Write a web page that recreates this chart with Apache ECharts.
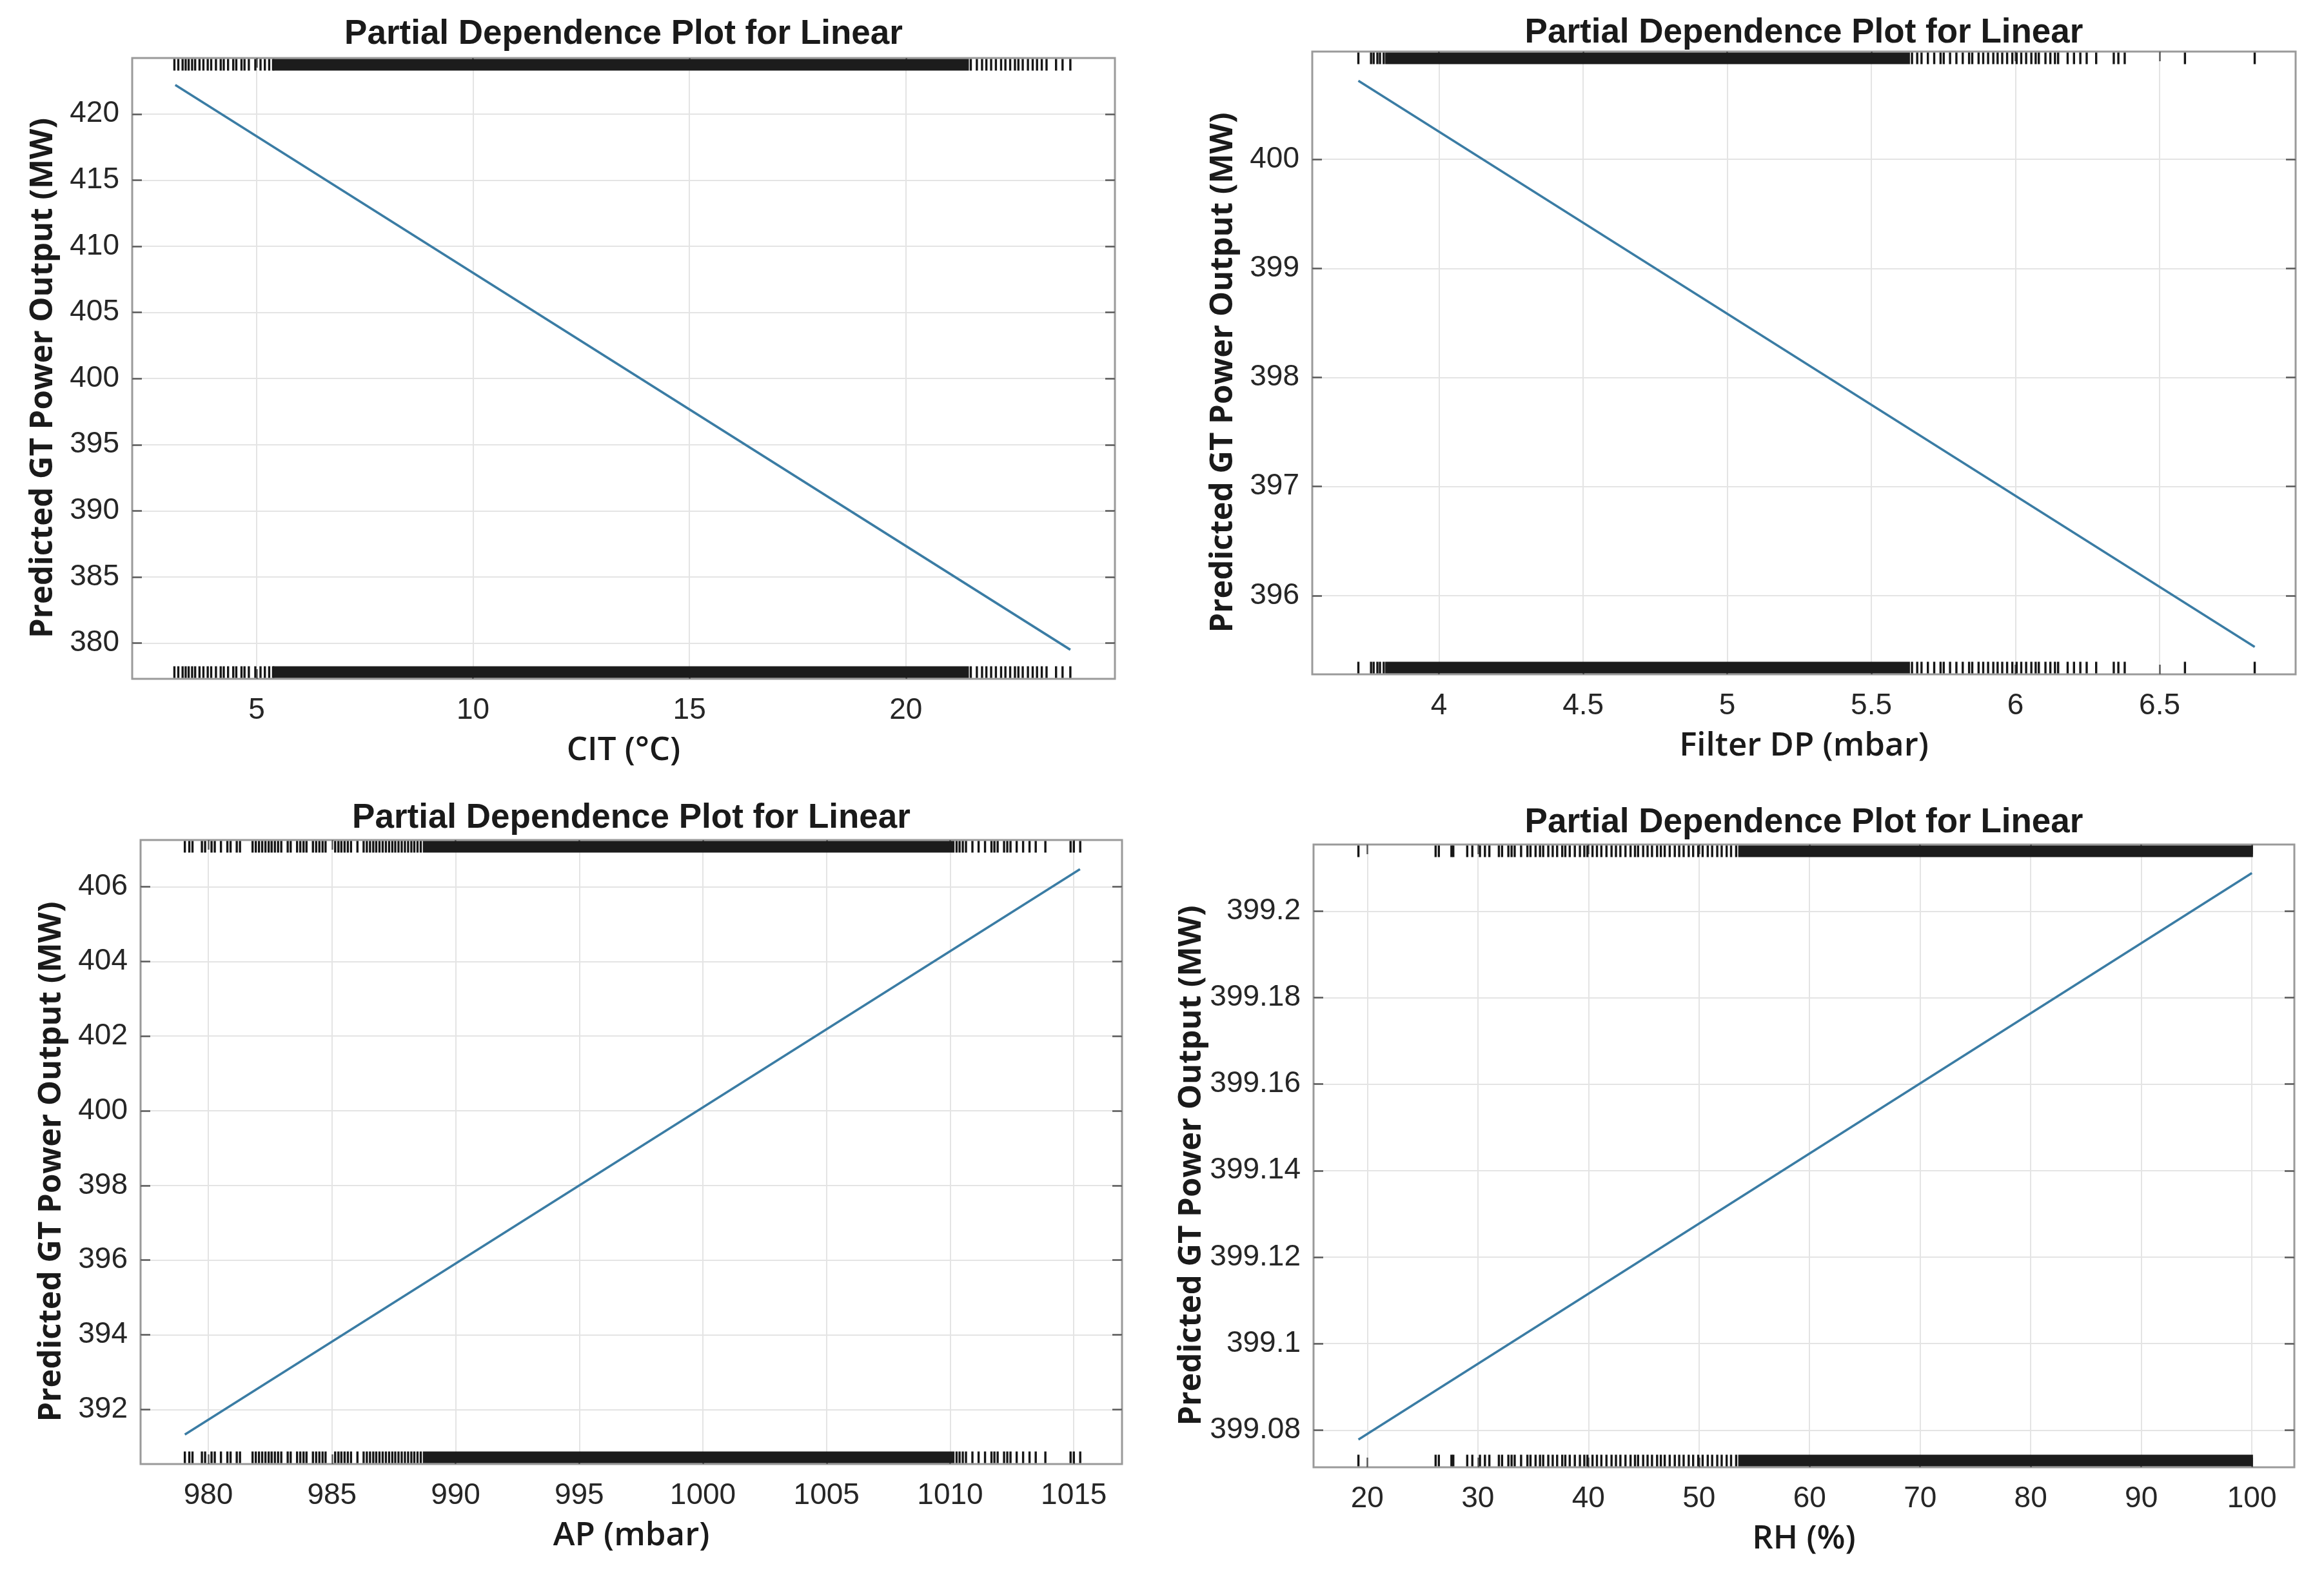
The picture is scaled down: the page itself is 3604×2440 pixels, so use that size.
<!DOCTYPE html>
<html><head><meta charset="utf-8">
<script src="https://cdn.jsdelivr.net/npm/echarts@6.0.0/dist/echarts.min.js"></script>
<style>html,body{margin:0;padding:0;background:#fff}#c{width:3604px;height:2440px}</style>
</head><body><div id="c"></div>
<script>
// ---------- data ----------
const titleText = 'Partial Dependence Plot for Linear';
const yName = 'Predicted GT Power Output (MW)';

// CIT panel
const citX = [3.12, 23.8];
const citY = [422.2, 379.5];
const citXTicks = [5, 10, 15, 20];
const citYTicks = [380, 385, 390, 395, 400, 405, 410, 415, 420];
const citRugMarks = [3.10, 3.19, 3.29, 3.36, 3.43, 3.51, 3.58, 3.68, 3.77, 3.87, 3.95, 4.06, 4.17, 4.24, 4.34, 4.46, 4.53, 4.65, 4.72, 4.82, 4.97, 5.09, 5.19, 5.29, 5.38,
  21.50, 21.64, 21.76, 21.86, 21.97, 22.08, 22.20, 22.30, 22.41, 22.52, 22.60, 22.70, 22.82, 22.93, 23.03, 23.14, 23.25, 23.47, 23.62, 23.80];
const citRugBands = [[5.41, 21.43]];

// Filter DP panel
const dpX = [3.72, 6.83];
const dpY = [400.72, 395.53];
const dpXTicks = [4, 4.5, 5, 5.5, 6, 6.5];
const dpYTicks = [396, 397, 398, 399, 400];
const dpRugMarks = [3.72, 3.764, 3.773, 3.786, 3.795, 3.808,
  5.641, 5.659, 5.674, 5.696, 5.718, 5.740, 5.751, 5.773, 5.795, 5.817, 5.839, 5.850, 5.872, 5.888, 5.905, 5.923, 5.938, 5.954, 5.971, 5.989, 6.004, 6.020, 6.037, 6.055, 6.070, 6.081, 6.104, 6.121, 6.137, 6.148,
  6.181, 6.203, 6.225, 6.247, 6.280, 6.341, 6.357, 6.379, 6.588, 6.830];
const dpRugBands = [[3.817, 5.63]];

// AP panel
const apX = [979.05, 1015.25];
const apY = [391.33, 406.47];
const apXTicks = [980, 985, 990, 995, 1000, 1005, 1010, 1015];
const apYTicks = [392, 394, 396, 398, 400, 402, 404, 406];
const apRugMarks = [979.05, 979.23, 979.36, 979.74, 979.87, 980.13, 980.26, 980.51, 980.77, 980.90, 981.15, 981.28, 981.79, 981.92, 982.05, 982.18, 982.31, 982.44, 982.56, 982.69, 982.82, 982.95, 983.21, 983.33, 983.59, 983.72, 983.85, 983.97, 984.23, 984.36, 984.49, 984.62, 984.74, 985.13, 985.26, 985.38, 985.51, 985.64, 985.77, 986.03, 986.28, 986.41, 986.54, 986.67, 986.79, 986.92, 987.05, 987.18, 987.31, 987.44, 987.56, 987.69, 987.82, 987.95, 988.08, 988.21, 988.33, 988.46, 988.59,
  1010.26, 1010.38, 1010.51, 1010.64, 1010.90, 1011.15, 1011.41, 1011.67, 1011.79, 1011.92, 1012.18, 1012.31, 1012.44, 1012.69, 1012.95, 1013.21, 1013.46, 1013.85, 1014.87, 1015.0, 1015.26];
const apRugBands = [[988.72, 1010.13]];

// RH panel
const rhX = [19.2, 100];
const rhY = [399.0778, 399.2088];
const rhXTicks = [20, 30, 40, 50, 60, 70, 80, 90, 100];
const rhYTicks = [399.08, 399.1, 399.12, 399.14, 399.16, 399.18, 399.2];
const rhRugMarks = [19.2, 26.18, 26.47, 27.61, 27.78, 29.04, 29.50, 30.19, 30.64, 31.04, 31.90, 32.19, 32.76, 33.05, 33.33, 33.91, 34.48, 34.76, 35.22, 35.62, 35.91, 36.37, 36.77, 37.17, 37.63, 37.91, 38.31, 38.77, 39.23, 39.63, 39.91, 40.37, 40.77, 41.17, 41.63, 42.09, 42.49, 42.89, 43.35, 43.81, 44.21, 44.49, 44.95, 45.35,
  45.75, 46.21, 46.55, 46.90, 47.35, 47.81, 48.21, 48.61, 49.07, 49.47, 49.93, 50.33, 50.79, 51.19, 51.65, 52.05, 52.50, 52.90, 53.36];
const rhRugBands = [[53.65, 100]];

// ---------- layout ----------
const panels = [
  {grid:{left:205, top:90, width:1524, height:963}, titleTop:27, xr:[2.125, 24.83], yr:[377.30, 424.23],
   xTicks:citXTicks, yTicks:citYTicks, lx:citX, ly:citY, marks:citRugMarks, bands:citRugBands, xName:'CIT (°C)'},
  {grid:{left:2035, top:80, width:1525, height:966}, titleTop:25, xr:[3.560, 6.972], yr:[395.279, 400.987],
   xTicks:dpXTicks, yTicks:dpYTicks, lx:dpX, ly:dpY, marks:dpRugMarks, bands:dpRugBands, xName:'Filter DP (mbar)'},
  {grid:{left:218, top:1303, width:1522, height:968}, titleTop:1243, xr:[977.26, 1016.95], yr:[390.54, 407.25],
   xTicks:apXTicks, yTicks:apYTicks, lx:apX, ly:apY, marks:apRugMarks, bands:apRugBands, xName:'AP (mbar)'},
  {grid:{left:2037, top:1310, width:1521, height:966}, titleTop:1250, xr:[15.14, 103.84], yr:[399.0714, 399.2154],
   xTicks:rhXTicks, yTicks:rhYTicks, lx:rhX, ly:rhY, marks:rhRugMarks, bands:rhRugBands, xName:'RH (%)'}
];

const tickFont = {fontFamily:'Liberation Sans', fontSize:46, color:'#262626'};
const fmt = v => String(parseFloat((+v).toFixed(4)));
const tickStyle = {color:'#5a5a5a', width:2.5};
const RUG_H = 18;

function rugRender(params, api) {
  const cs = params.coordSys;
  const a = api.value(0), b = api.value(1);
  const x1 = api.coord([a, 0])[0];
  const x2 = api.coord([b, 0])[0];
  const w = Math.max(x2 - x1, 0) + 3.4;
  const fill = (b > a) ? '#1c1c1c' : '#161616';
  return {type:'group', children:[
    {type:'rect', shape:{x:x1 - 1.7, y:cs.y + 1.5, width:w, height:RUG_H}, style:{fill:fill}},
    {type:'rect', shape:{x:x1 - 1.7, y:cs.y + cs.height - RUG_H - 1.5, width:w, height:RUG_H}, style:{fill:fill}}
  ]};
}

const option = {animation:false, backgroundColor:'#ffffff', title:[], grid:[], xAxis:[], yAxis:[], series:[]};

panels.forEach((p, i) => {
  option.title.push({
    text:titleText, left:p.grid.left + p.grid.width / 2, top:p.titleTop, textAlign:'center', padding:0,
    textStyle:{fontFamily:'Liberation Sans', fontWeight:'bold', fontSize:53, color:'#1a1a1a'}
  });
  option.grid.push(Object.assign({show:true, borderColor:'#9a9a9a', borderWidth:3, backgroundColor:'#fff', containLabel:false}, p.grid));
  option.xAxis.push({
    type:'value', gridIndex:i, position:'bottom', min:p.xr[0], max:p.xr[1],
    name:p.xName, nameLocation:'middle', nameGap:86,
    nameTextStyle:{fontFamily:'Open Sans', fontWeight:600, fontSize:51, color:'#1a1a1a'},
    axisLine:{show:false},
    axisTick:{show:true, inside:true, length:15, lineStyle:tickStyle, customValues:p.xTicks},
    axisLabel:Object.assign({show:true, margin:26, customValues:p.xTicks, formatter:fmt}, tickFont),
    splitLine:{show:true, lineStyle:{color:'#e4e4e4', width:2}}
  });
  option.xAxis.push({
    type:'value', gridIndex:i, position:'top', min:p.xr[0], max:p.xr[1],
    axisLine:{show:false},
    axisTick:{show:true, inside:true, length:15, lineStyle:tickStyle, customValues:p.xTicks},
    axisLabel:{show:false}, splitLine:{show:false}
  });
  option.yAxis.push({
    type:'value', gridIndex:i, position:'left', min:p.yr[0], max:p.yr[1],
    name:yName, nameLocation:'middle', nameGap:113, nameRotate:90,
    nameTextStyle:{fontFamily:'Open Sans', fontWeight:'bold', fontSize:49, color:'#1a1a1a', padding:[0, 30, 0, 0]},
    axisLine:{show:false},
    axisTick:{show:true, inside:true, length:15, lineStyle:tickStyle, customValues:p.yTicks},
    axisLabel:Object.assign({show:true, margin:20, customValues:p.yTicks, formatter:fmt}, tickFont),
    splitLine:{show:true, lineStyle:{color:'#e4e4e4', width:2}}
  });
  option.yAxis.push({
    type:'value', gridIndex:i, position:'right', min:p.yr[0], max:p.yr[1],
    axisLine:{show:false},
    axisTick:{show:true, inside:true, length:15, lineStyle:tickStyle, customValues:p.yTicks},
    axisLabel:{show:false}, splitLine:{show:false}
  });
  option.series.push({
    type:'line', xAxisIndex:2 * i, yAxisIndex:2 * i,
    data:p.lx.map((x, k) => [x, p.ly[k]]),
    symbol:'none', lineStyle:{color:'#3a7ca4', width:3.6}, z:3, silent:true
  });
  option.series.push({
    type:'custom', xAxisIndex:2 * i, yAxisIndex:2 * i, renderItem:rugRender, clip:false, z:4, silent:true,
    encode:{x:[0, 1]},
    data:p.marks.map(v => [v, v]).concat(p.bands)
  });
});

const chart = echarts.init(document.getElementById('c'), null, {renderer:'canvas', width:3604, height:2440});
chart.setOption(option);
</script></body></html>
